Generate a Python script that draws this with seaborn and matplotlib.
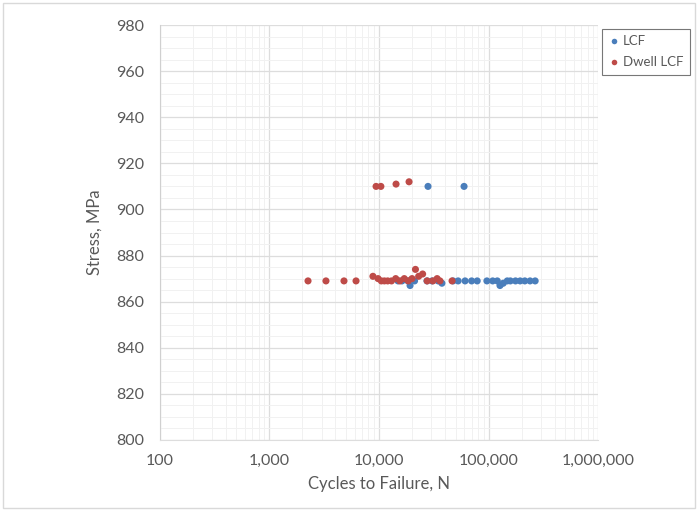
import numpy as np
import pandas as pd
import matplotlib
matplotlib.use("Agg")
import matplotlib.pyplot as plt
import seaborn as sns
from matplotlib.ticker import FuncFormatter, FixedLocator, MultipleLocator, LogLocator

# ─── Data ─────────────────────────────────────────────────────────────────────
lcf_cycles = [28000, 59700,
              14900, 16200, 18400, 19200, 21100, 27400, 30500, 34600, 37500,
              47400, 52700, 61000, 70000, 78700, 96500, 109000, 120000,
              127000, 136000, 148000, 158000, 176000, 194000, 214000,
              239000, 266000]
lcf_stress = [910, 910,
              869, 869, 869, 867, 869, 869, 869, 869, 868,
              869, 869, 869, 869, 869, 869, 869, 869,
              867, 868, 869, 869, 869, 869, 869,
              869, 869]

dwell_cycles = [9400, 10400, 14300, 18800,
                2250, 3280, 4790, 6170,
                8800, 9800, 10500, 11200, 12000, 13000, 14200, 15500,
                17000, 18500, 20000, 21500, 23000, 25000, 27500, 31000,
                33900, 36000, 46400]
dwell_stress = [910, 910, 911, 912,
                869, 869, 869, 869,
                871, 870, 869, 869, 869, 869, 870, 869,
                870, 869, 870, 874, 871, 872, 869, 869,
                870, 869, 869]

series_names = ["LCF", "Dwell LCF"]
series_colors = ["#4a7ebb", "#be4b48"]
y_ticks = list(range(800, 1000, 20))
x_ticks = [100, 1000, 10000, 100000, 1000000]

df = pd.DataFrame({
    "cycles": lcf_cycles + dwell_cycles,
    "stress": lcf_stress + dwell_stress,
    "series": [series_names[0]] * len(lcf_cycles) + [series_names[1]] * len(dwell_cycles),
})

# ─── Plot ─────────────────────────────────────────────────────────────────────
sns.set_style("white")
plt.rcParams["font.family"] = ["Lato", "DejaVu Sans"]

fig = plt.figure(figsize=(6.98, 5.11), dpi=100)
ax = fig.add_axes([0.229, 0.139, 0.628, 0.812])

sns.scatterplot(data=df, x="cycles", y="stress", hue="series",
                hue_order=series_names, palette=series_colors,
                s=26, linewidth=0, ax=ax, legend=False, zorder=3)

ax.set_xscale("log")
ax.set_xlim(100, 1000000)
ax.set_ylim(800, 980)
ax.xaxis.set_major_locator(FixedLocator(x_ticks))
ax.xaxis.set_minor_locator(LogLocator(base=10, subs=np.arange(2, 10)))
ax.xaxis.set_major_formatter(FuncFormatter(lambda v, p: f"{int(v):,}"))
ax.xaxis.set_minor_formatter(FuncFormatter(lambda v, p: ""))
ax.yaxis.set_major_locator(FixedLocator(y_ticks))
ax.yaxis.set_minor_locator(MultipleLocator(5))

ax.grid(which="major", color="#dddddd", linewidth=0.9)
ax.grid(which="minor", color="#f1f1f1", linewidth=0.7)
ax.set_axisbelow(True)

for side in ["top", "right"]:
    ax.spines[side].set_visible(False)
ax.spines["left"].set_color("#d0d0d0")
ax.spines["bottom"].set_color("#dddddd")

ax.tick_params(axis="y", which="major", length=5, color="#d0d0d0",
               labelsize=11.5, labelcolor="#595959", pad=6)
ax.tick_params(axis="x", which="major", length=0,
               labelsize=11.5, labelcolor="#595959", pad=10)
ax.tick_params(which="minor", length=0)

ax.set_xlabel("Cycles to Failure, N", fontsize=12, color="#595959", labelpad=6)
ax.set_ylabel("Stress, MPa", fontsize=12, color="#595959", labelpad=10)

# legend box at top right, outside the plot area
handles = [plt.Line2D([], [], marker="o", linestyle="", markersize=4,
                      markerfacecolor=c, markeredgewidth=0) for c in series_colors]
leg = fig.legend(handles, series_names, loc="upper left",
                 bbox_to_anchor=(0.862, 0.944), frameon=True, fancybox=False,
                 fontsize=9.5, labelcolor="#595959", handletextpad=0.2,
                 borderpad=0.5, labelspacing=0.7, handlelength=0.9,
                 borderaxespad=0)
leg.get_frame().set_edgecolor("#555555")
leg.get_frame().set_linewidth(0.8)

# thin frame around the whole chart
fig.patches.append(plt.Rectangle((0.004, 0.006), 0.992, 0.988, transform=fig.transFigure,
                                 fill=False, edgecolor="#d9d9d9", linewidth=1))

fig.savefig("out.png", dpi=100)
